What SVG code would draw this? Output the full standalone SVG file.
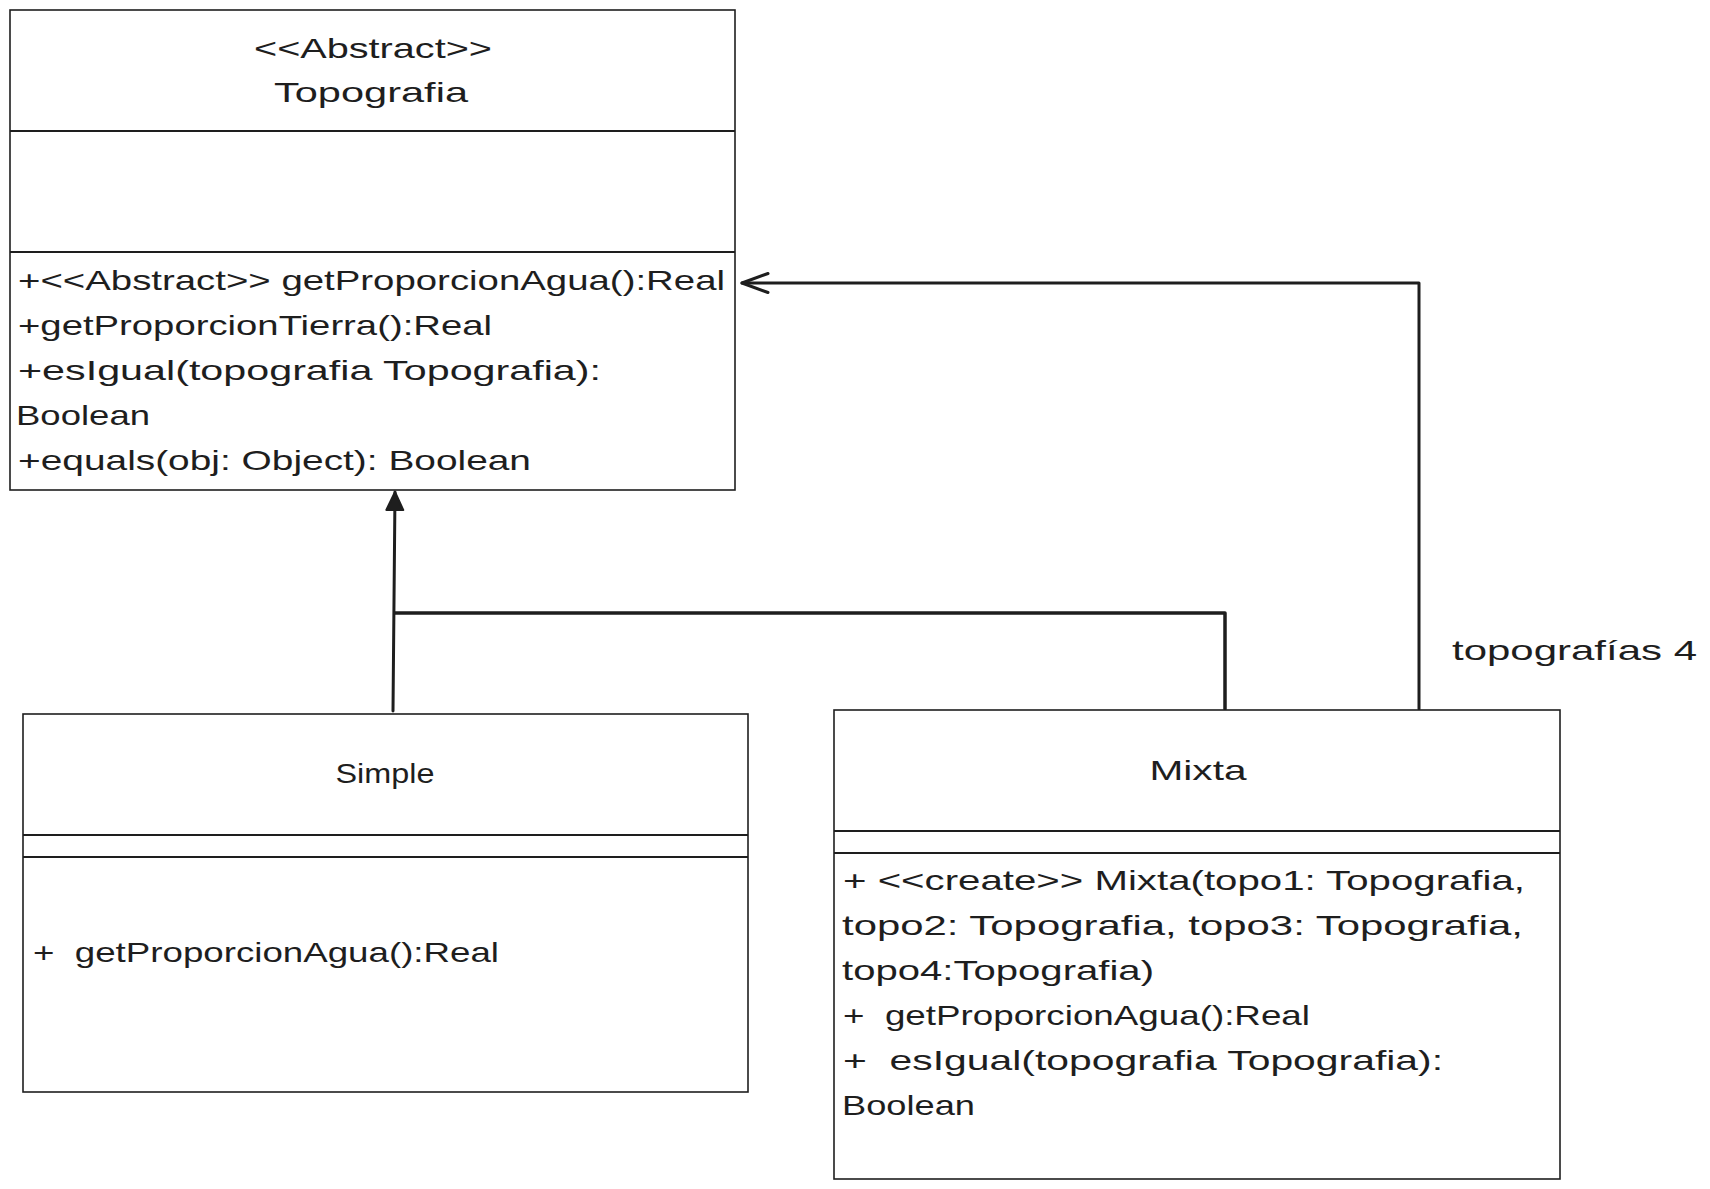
<svg xmlns="http://www.w3.org/2000/svg" width="1710" height="1189" viewBox="0 0 1710 1189">
<defs>
<style>
.box{fill:#ffffff;stroke:#1e1e1e;stroke-width:1.6}
.div{stroke:#1e1e1e;stroke-width:2;fill:none}
.t{font-family:"Liberation Sans",Arial,sans-serif;font-size:28px;fill:#1e1e1e;white-space:pre}
.c{text-anchor:middle}
.conn{stroke:#1e1e1e;stroke-width:3;fill:none;stroke-linecap:round;stroke-linejoin:round}
</style>
<marker id="tri" viewBox="0 0 22 20" refX="20" refY="10" markerWidth="22" markerHeight="20" markerUnits="userSpaceOnUse" orient="auto" overflow="visible">
<path d="M20,10 L2,1.5 L2,18.5 Z" fill="#1e1e1e" stroke="#1e1e1e" stroke-width="2" stroke-linejoin="round"/>
</marker>
<marker id="open" viewBox="0 0 28 22" refX="27" refY="11" markerWidth="28" markerHeight="22" markerUnits="userSpaceOnUse" orient="auto" overflow="visible">
<path d="M1,1.5 L27,11 L1,20.5" fill="none" stroke="#1e1e1e" stroke-width="3" stroke-linecap="round" stroke-linejoin="round"/>
</marker>
</defs>
<rect width="1710" height="1189" fill="#ffffff"/>

<g id="connectors">
<path class="conn" d="M393,711 L395,492" marker-end="url(#tri)"/>
<path class="conn" d="M1225,709 L1225,613 L395,613" style="stroke-width:3.5"/>
<path class="conn" d="M1419,709 L1419,283 L742,283" marker-end="url(#open)"/>
<text class="t" x="1452" y="660" textLength="245" lengthAdjust="spacingAndGlyphs">topografías 4</text>
</g>

<g id="topografia">
<rect class="box" x="10" y="10" width="725" height="480"/>
<line class="div" x1="10" y1="131" x2="735" y2="131"/>
<line class="div" x1="10" y1="252" x2="735" y2="252"/>
<text class="t c" x="373" y="58" textLength="238" lengthAdjust="spacingAndGlyphs">&lt;&lt;Abstract&gt;&gt;</text>
<text class="t c" x="371" y="102" textLength="194" lengthAdjust="spacingAndGlyphs">Topografia</text>
<text class="t" x="18" y="290" textLength="707" lengthAdjust="spacingAndGlyphs">+&lt;&lt;Abstract&gt;&gt; getProporcionAgua():Real</text>
<text class="t" x="18" y="335" textLength="474" lengthAdjust="spacingAndGlyphs">+getProporcionTierra():Real</text>
<text class="t" x="18" y="380" textLength="583" lengthAdjust="spacingAndGlyphs">+esIgual(topografia Topografia):</text>
<text class="t" x="16" y="425" textLength="134" lengthAdjust="spacingAndGlyphs">Boolean</text>
<text class="t" x="18" y="470" textLength="513" lengthAdjust="spacingAndGlyphs">+equals(obj: Object): Boolean</text>
</g>

<g id="simple">
<rect class="box" x="23" y="714" width="725" height="378"/>
<line class="div" x1="23" y1="835" x2="748" y2="835"/>
<line class="div" x1="23" y1="857" x2="748" y2="857"/>
<text class="t c" x="385" y="783" textLength="99" lengthAdjust="spacingAndGlyphs">Simple</text>
<text class="t" x="33" y="962" textLength="466" lengthAdjust="spacingAndGlyphs">+  getProporcionAgua():Real</text>
</g>

<g id="mixta">
<rect class="box" x="834" y="710" width="726" height="469"/>
<line class="div" x1="834" y1="831" x2="1560" y2="831"/>
<line class="div" x1="834" y1="853" x2="1560" y2="853"/>
<text class="t c" x="1198" y="780" textLength="97" lengthAdjust="spacingAndGlyphs">Mixta</text>
<text class="t" x="843" y="890" textLength="682" lengthAdjust="spacingAndGlyphs">+ &lt;&lt;create&gt;&gt; Mixta(topo1: Topografia,</text>
<text class="t" x="842" y="935" textLength="681" lengthAdjust="spacingAndGlyphs">topo2: Topografia, topo3: Topografia,</text>
<text class="t" x="842" y="980" textLength="312" lengthAdjust="spacingAndGlyphs">topo4:Topografia)</text>
<text class="t" x="843" y="1025" textLength="467" lengthAdjust="spacingAndGlyphs">+  getProporcionAgua():Real</text>
<text class="t" x="843" y="1070" textLength="600" lengthAdjust="spacingAndGlyphs">+  esIgual(topografia Topografia):</text>
<text class="t" x="842" y="1115" textLength="133" lengthAdjust="spacingAndGlyphs">Boolean</text>
</g>
</svg>
